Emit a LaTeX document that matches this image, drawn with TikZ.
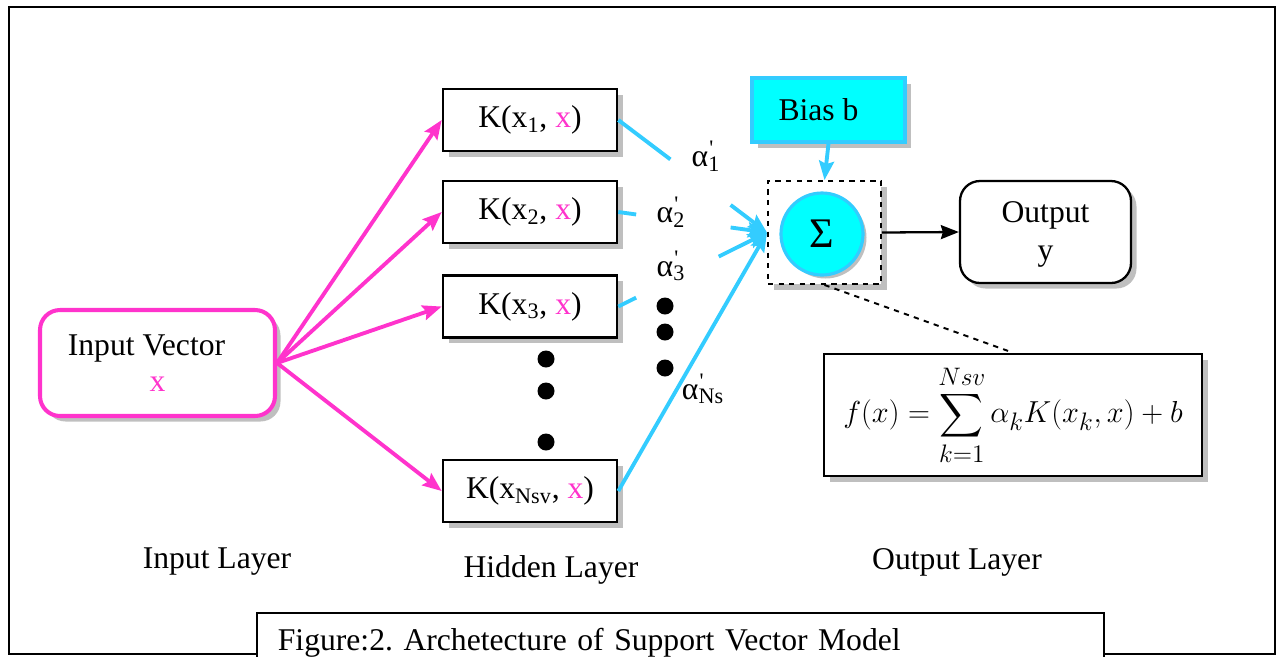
\documentclass[tikz,border=0pt]{standalone}
\usepackage{exscale}
\usepackage{fontspec}
\setmainfont{Liberation Serif}
\usetikzlibrary{shapes.misc,arrows.meta,shadows,calc}

\definecolor{svmpink}{RGB}{255,51,204}
\definecolor{svmblue}{RGB}{51,204,255}
\definecolor{svmcyan}{RGB}{0,255,255}

% alpha with prime over the index
\newcommand{\alp}[1]{α\rlap{\textsuperscript{\kern0.6pt\textquotesingle}}\textsubscript{#1}}

\begin{document}
\begin{tikzpicture}[
  font=\fontsize{18}{20.5}\selectfont,
  shade/.style={drop shadow={shadow xshift=0.11cm,shadow yshift=-0.11cm,opacity=0.5}},
  invec/.style={rectangle,rounded corners=0.4cm,draw=svmpink,line width=2.3pt,fill=white,
                minimum width=4.7cm,minimum height=2.12cm,align=center,shade},
  kbox/.style={rectangle,draw,line width=1.5pt,fill=white,minimum width=3.48cm,
               minimum height=1.24cm,inner sep=0pt,shade},
  sumbox/.style={rectangle,draw,dashed,line width=1.1pt,fill=white,minimum width=2.26cm,
                 minimum height=2.06cm,shade},
  sumcirc/.style={circle,draw=svmblue,line width=1.8pt,fill=svmcyan,minimum size=1.64cm,
                  inner sep=0pt,font=\fontsize{24}{24}\selectfont,
                  drop shadow={shadow xshift=0.07cm,shadow yshift=-0.07cm,opacity=0.5}},
  biasbox/.style={rectangle,draw=svmblue,line width=1.8pt,fill=svmcyan,minimum width=3.06cm,
                  minimum height=1.28cm,shade},
  outbox/.style={rectangle,rounded corners=0.4cm,draw,line width=1.3pt,fill=white,
                 minimum width=3.42cm,minimum height=2.04cm,align=center,shade},
  formbox/.style={rectangle,draw,line width=1.5pt,fill=white,minimum width=7.56cm,
                  minimum height=2.44cm,inner sep=0pt,font=\fontsize{19}{23}\selectfont,shade},
  capbox/.style={rectangle,draw,line width=1pt,fill=white,text width=16.1cm,align=left,
                 inner xsep=0.42cm,inner ysep=0pt,text height=0.74cm,text depth=0.5cm},
  pinkarr/.style={-{Stealth[length=0.38cm,width=0.3cm,inset=0.06cm]},draw=svmpink,
                  line width=2.2pt},
  bluearr/.style={-{Stealth[length=0.38cm,width=0.3cm,inset=0.06cm]},draw=svmblue,
                  line width=2.2pt},
  blueln/.style={draw=svmblue,line width=2.2pt},
  blkarr/.style={-{Stealth[length=0.36cm,width=0.28cm,inset=0.04cm]},line width=1.3pt},
  layer/.style={font=\fontsize{18}{20}\selectfont},
]

\useasboundingbox (0,0) rectangle (25.54,-13.12);

% Frame
\draw[line width=1.2pt] (0.18,-0.14) rectangle (25.5,-13.08);

% Input layer
\node[invec] (inp) at (3.15,-7.26) {\hspace*{-0.44cm}Input Vector\\\textcolor{svmpink}{x}};

% Hidden layer
\node[kbox] (k1) at (10.6,-2.4) {K(x\textsubscript{1}, \textcolor{svmpink}{x})};
\node[kbox] (k2) at (10.6,-4.24) {K(x\textsubscript{2}, \textcolor{svmpink}{x})};
\node[kbox] (k3) at (10.6,-6.13) {K(x\textsubscript{3}, \textcolor{svmpink}{x})};
\node[kbox] (kn) at (10.6,-9.82) {K(x\textsubscript{Nsv}, \textcolor{svmpink}{x})};

\foreach \y in {-7.18,-7.82,-8.84}
  \fill (10.92,\y) circle (0.17);
\foreach \y in {-6.12,-6.64,-7.36}
  \fill (13.3,\y) circle (0.17);

% Arrows into kernels
\foreach \k in {k1,k2,k3,kn}
  \draw[pinkarr] (inp.east) -- (\k.west);

% Output layer
\node[biasbox] (bias) at (16.57,-2.2) {Bias b\hspace*{0.4cm}};
\node[sumbox] (sbox) at (16.49,-4.65) {};
\node[sumcirc] (sum) at (16.44,-4.68) {Σ};
\node[outbox] (out) at (20.91,-4.64) {\rule{0pt}{0.5cm}Output\\[0.04cm]y};
\node[formbox] (form) at (20.26,-8.3)
  {$\displaystyle f(x)=\sum_{k=1}^{Nsv}\alpha_k K(x_k,x)+b$};

% Weighted lines into the sum
\draw[blueln] (k1.east) -- ($(k1.east)!0.35!(sbox.west)$);
\draw[bluearr] ($(k1.east)!0.755!(sbox.west)$) -- (sbox.west);
\draw[blueln] (k2.east) -- ($(k2.east)!0.12!(sbox.west)$);
\draw[bluearr] ($(k2.east)!0.755!(sbox.west)$) -- (sbox.west);
\draw[blueln] (k3.east) -- ($(k3.east)!0.12!(sbox.west)$);
\draw[bluearr] ($(k3.east)!0.675!(sbox.west)$) -- (sbox.west);
\draw[bluearr] (kn.east) -- (sbox.west);

\draw[bluearr] (bias.south) -- (sbox.north);
\draw[blkarr] (sbox.east) -- (out.west);
\draw[dashed,line width=1.1pt] (sbox.south) -- (form.north);

% Weights
\node (a1) at (14.12,-3.12) {\alp{1}};
\node (a2) at (13.42,-4.24) {\alp{2}};
\node (a3) at (13.42,-5.32) {\alp{3}};
\node (an) at (14.06,-7.78) {\alp{Ns}};

% Layer names
\node[layer] (linp) at (4.34,-11.24) {Input Layer};
\node[layer] (lhid) at (11.02,-11.4) {Hidden Layer};
\node[layer] (lout) at (19.14,-11.24) {Output Layer};

% Caption
\node[capbox,anchor=base west] (cap) at (5.12,-13.0)
  {Figure:2.\ Archetecture of Support Vector Model};

\end{tikzpicture}
\end{document}
